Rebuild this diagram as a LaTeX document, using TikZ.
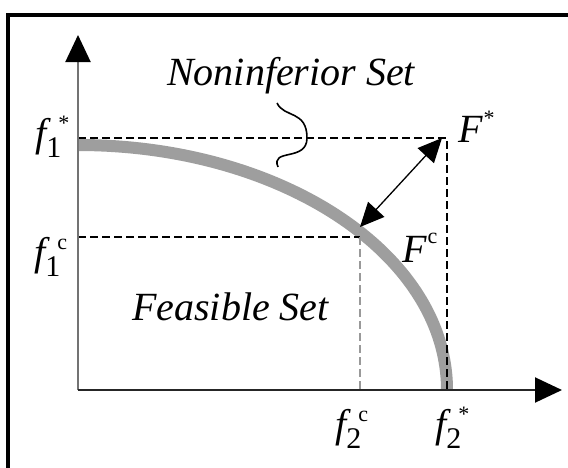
\documentclass[tikz,border=0pt]{standalone}
\usepackage{fontspec}
\setmainfont{Liberation Serif}
\usetikzlibrary{arrows.meta}
\newcommand{\flab}[2]{\textit{f}\raisebox{-11pt}{\fontsize{30}{30}\selectfont\upshape #1}\hspace{-3pt}\raisebox{16pt}{\fontsize{22}{22}\selectfont\upshape #2}}
\newcommand{\Flab}[2]{\textit{F}\hspace{1pt}\raisebox{#2}{\fontsize{22}{22}\selectfont\upshape #1}}
\begin{document}
\begin{tikzpicture}[x=1pt,y=-1pt,
  axisline/.style={line width=2pt},
  bigtip/.style={-{Triangle[length=27pt,width=25pt,color=black]}},
  guide/.style={line width=1.5pt, dash pattern=on 8pt off 4pt},
  frontier/.style={line width=12pt, color=black!38},
  lbl/.style={inner sep=0pt, anchor=base west, font=\fontsize{40}{40}\selectfont\itshape},
  txt/.style={inner sep=0pt, anchor=base west, font=\fontsize{40}{40}\selectfont\itshape}]
\useasboundingbox (0,0) rectangle (568,467);
\clip (0,0) rectangle (568,467);
\fill[white] (0,0) rectangle (568,467);
\draw[line width=4pt] (8,15) rectangle (640,540);
% coordinates
\coordinate (O) at (78,390);
\coordinate (ytop) at (78,35);
\coordinate (xend) at (562,390);
\coordinate (P1) at (78,138);
\coordinate (Fs) at (447,138);
\coordinate (Fsb) at (447,390);
\coordinate (Q1) at (78,237);
\coordinate (Fc) at (360,237);
\coordinate (Fcb) at (360,390);
\coordinate (A1) at (360,227);
\coordinate (A2) at (442,138);
\coordinate (S0) at (277,103);
\coordinate (S1) at (307,138);
\coordinate (S2) at (278,167);
% frontier
\draw[frontier] (78,145) arc[start angle=-90, end angle=0, x radius=369, y radius=245];
% guides
\draw[guide] (P1) -- (Fs) -- (Fsb);
\draw[guide] (Q1) -- (Fc);
\draw[guide, color=black!40] (Fc) -- (Fcb);
% axes
\draw[axisline, color=black!55, bigtip] (O) -- (ytop);
\draw[axisline, color=black!85, bigtip] (O) -- (xend);
% double arrow
\draw[line width=1.3pt, {Triangle[length=24pt,width=22pt]}-{Triangle[length=24pt,width=22pt]}] (A1) -- (A2);
% squiggle
\draw[line width=1.6pt] (S0) .. controls (284,118) and (307,110) .. (S1) .. controls (307,162) and (270,148) .. (S2);
% texts
\node[txt] (nonin) at (167,85) {Noninferior Set};
\node[txt] (feas) at (132,320) {Feasible Set};
\node[lbl] (Fstar) at (458,142) {\Flab{*}{17pt}};
\node[lbl] (Fcl) at (402,262) {\Flab{c}{19pt}};
\node[lbl] (f1s) at (35,146) {\flab{1}{*}};
\node[lbl] (f1c) at (34,265) {\flab{1}{c}};
\node[lbl] (f2c) at (335,437) {\flab{2}{c}};
\node[lbl] (f2s) at (435,437) {\flab{2}{*}};
\end{tikzpicture}
\end{document}
